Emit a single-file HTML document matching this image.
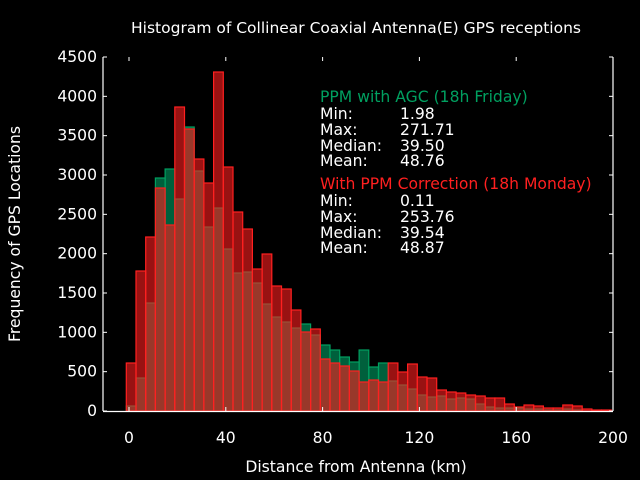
<!DOCTYPE html>
<html><head><meta charset="utf-8"><style>
html,body{margin:0;padding:0;background:#000;width:640px;height:480px;overflow:hidden}
text{font-family:"DejaVu Sans","Liberation Sans",sans-serif;}
</style></head><body>
<svg id="s" width="640" height="480" viewBox="0 0 640 480" xmlns="http://www.w3.org/2000/svg">
<rect width="640" height="480" fill="#000"/>
<g id="bars"></g>
<g stroke="#fff" stroke-width="1.2" fill="none">
<line x1="103" y1="57" x2="103" y2="411"/>
<line x1="613" y1="57" x2="613" y2="411"/>
<line x1="103" y1="411.5" x2="613" y2="411.5"/>
</g>
<g id="ticks" stroke="#fff" stroke-width="1"></g>
<g fill="#fff" font-size="15.6" text-anchor="end" id="ylab"></g>
<g fill="#fff" font-size="15.6" text-anchor="middle" id="xlab"></g>
<text x="356" y="33" fill="#fff" font-size="15.5" text-anchor="middle">Histogram of Collinear Coaxial Antenna(E) GPS receptions</text>
<text x="356" y="472" fill="#fff" font-size="15.6" text-anchor="middle">Distance from Antenna (km)</text>
<text transform="translate(20,234) rotate(-90)" fill="#fff" font-size="15.6" text-anchor="middle">Frequency of GPS Locations</text>
<g font-size="15.6" fill="#fff">
<text x="320" y="102" fill="#00a060">PPM with AGC (18h Friday)</text>
<text x="320" y="119">Min:</text><text x="400" y="119">1.98</text>
<text x="320" y="135">Max:</text><text x="400" y="135">271.71</text>
<text x="320" y="151">Median:</text><text x="400" y="151">39.50</text>
<text x="320" y="166">Mean:</text><text x="400" y="166">48.76</text>
<text x="320" y="189" fill="#ff2020">With PPM Correction (18h Monday)</text>
<text x="320" y="206">Min:</text><text x="400" y="206">0.11</text>
<text x="320" y="222">Max:</text><text x="400" y="222">253.76</text>
<text x="320" y="238">Median:</text><text x="400" y="238">39.54</text>
<text x="320" y="253">Mean:</text><text x="400" y="253">48.87</text>
</g>
</svg>
<script>
var NS="http://www.w3.org/2000/svg";
function el(p,t,a){var e=document.createElementNS(NS,t);for(var k in a)e.setAttribute(k,a[k]);p.appendChild(e);return e;}
var R=[363,271,237,188,225,107,129,159,183,72,167,212,229,269,254,286,289,310,332,329,359,363,366,371,382,380,382,363,372,364,377,378,390,392,393,395,396,398,398,404,407,405,406,408,408,405,406,409,410,410];
var G=[406,378,303,178,169,199,127,171,227,208,249,273,272,283,304,317,322,328,324,335,345,350,357,362,350,367,363,381,385,389,395,397,396,399,398,399,404,407,408,408,408,409,409,410,410,409,410,411,411,411];
var b=document.getElementById('bars');
for(var i=0;i<50;i++){var x=126.3+i*9.7;
 if(G[i]<411) el(b,'rect',{x:x,y:G[i],width:9.7,height:411-G[i],fill:'rgba(0,160,100,0.6)',stroke:'#00a060','stroke-width':1.2});
}
for(var i=0;i<50;i++){var x=126.3+i*9.7;
 if(R[i]<411) el(b,'rect',{x:x,y:R[i],width:9.7,height:411-R[i],fill:'rgba(255,30,30,0.6)',stroke:'#ff2020','stroke-width':1.2});
}
var t=document.getElementById('ticks'),yl=document.getElementById('ylab'),xl=document.getElementById('xlab');
for(var v=0;v<=4500;v+=500){var y=411-v*354/4500;
 el(t,'line',{x1:103,y1:y,x2:107,y2:y});el(t,'line',{x1:613,y1:y,x2:609,y2:y});
 var tx=el(yl,'text',{x:97,y:y+5});tx.textContent=v;}
for(var v=0;v<=200;v+=40){var x=129+v*2.42;
 el(t,'line',{x1:x,y1:411,x2:x,y2:407});el(t,'line',{x1:x,y1:57,x2:x,y2:61});
 var tx=el(xl,'text',{x:x,y:443});tx.textContent=v;}
</script>
</body></html>
